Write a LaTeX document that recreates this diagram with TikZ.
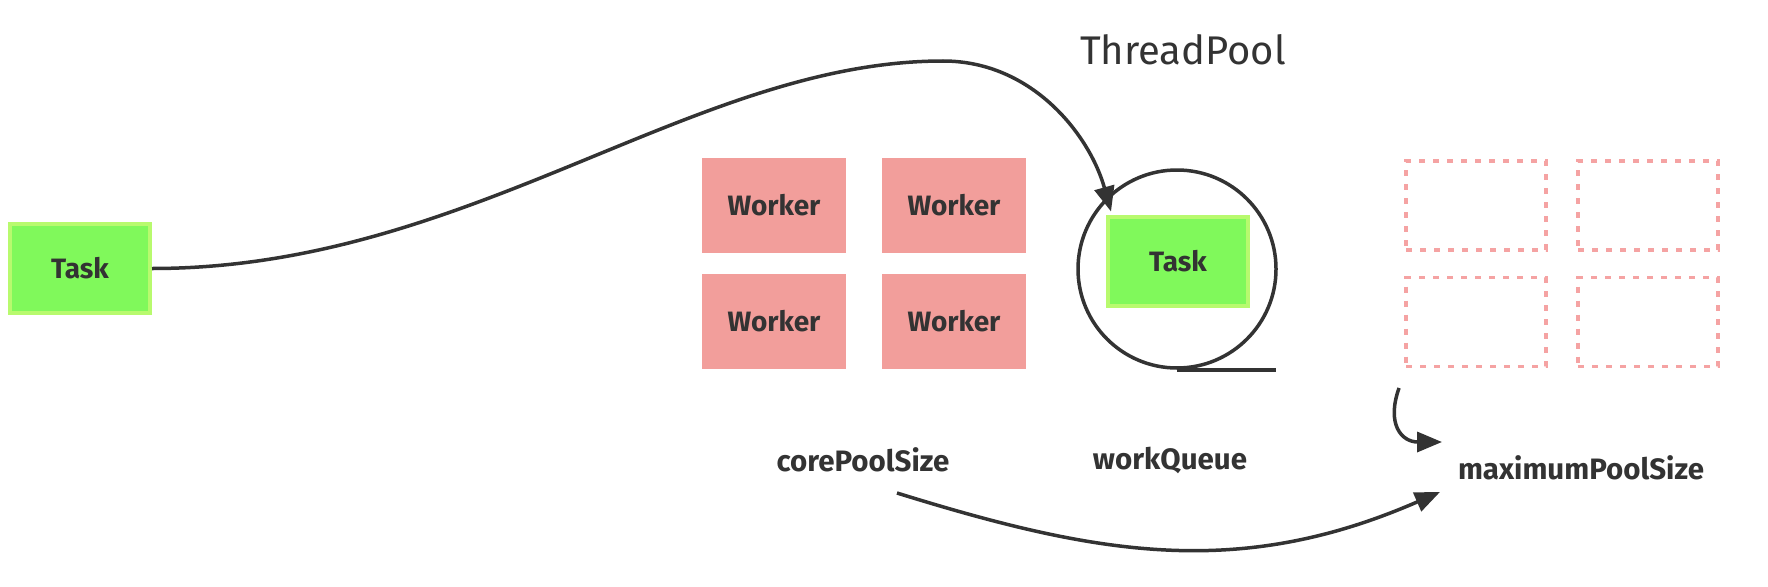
\documentclass[tikz,border=0pt]{standalone}
\usepackage{fontspec}
\setmainfont{Fira Sans}
\usetikzlibrary{arrows.meta}
\definecolor{ink}{HTML}{333333}
\definecolor{tgreen}{HTML}{80F95B}
\definecolor{tborder}{HTML}{B8FA6E}
\definecolor{wpink}{HTML}{F29E9B}
\definecolor{dpink}{HTML}{F5A3A3}
\begin{document}
\begin{tikzpicture}[x=1pt,y=-1pt,
  taskbox/.style={draw=tborder, line width=4pt, fill=tgreen, minimum width=140pt, minimum height=89pt, inner sep=0pt, font=\bfseries\fontsize{28}{30}\selectfont, text=ink},
  workerbox/.style={fill=wpink, draw=none, minimum width=144pt, minimum height=95pt, inner sep=0pt, font=\bfseries\fontsize{28}{30}\selectfont, text=ink},
  slotbox/.style={draw=dpink, line width=3.5pt, dash pattern=on 6pt off 8pt, minimum width=140pt, minimum height=89pt, inner sep=0pt},
  lbl/.style={font=\bfseries\fontsize{29.5}{32}\selectfont, text=ink, inner sep=0pt},
  arr/.style={draw=ink, line width=3.5pt, -{Triangle[length=25pt,width=20pt]}, fill=none},
  queue/.style={circle, draw=ink, line width=3.5pt, minimum size=198pt, inner sep=0pt}
]
\useasboundingbox (0,0) rectangle (1768,586);
% title
\node[font=\fontsize{40}{44}\selectfont, text=ink, inner sep=0pt] (title) at (1183,50) {ThreadPool};
% left task
\node[taskbox] (t1) at (80,268.5) {Task};
% workers
\node[workerbox] (w1) at (774,205.5) {Worker};
\node[workerbox] (w2) at (954,205.5) {Worker};
\node[workerbox] (w3) at (774,321.5) {Worker};
\node[workerbox] (w4) at (954,321.5) {Worker};
% queue
\node[queue] (q) at (1177,269) {};
\draw[draw=ink, line width=3.5pt] (q.south) -- ++(99,0);
\node[taskbox] (t2) at (1178,261) {Task};
% slots
\node[slotbox] (s1) at (1476,205.5) {};
\node[slotbox] (s2) at (1648,205.5) {};
\node[slotbox] (s3) at (1476,322) {};
\node[slotbox] (s4) at (1648,322) {};
% labels
\node[lbl] (cps) at (863,460) {corePoolSize};
\node[lbl] (wq) at (1170,460) {workQueue};
\node[lbl] (mps) at (1581,468) {maximumPoolSize};
% connectors
\coordinate (pk) at (943,61);
\draw[arr] (t1.east) .. controls (470,268.5) and (693,61) .. (pk)
  .. controls (1033,61) and (1090,136) .. ([xshift=5pt,yshift=3pt]t2.north west);
\coordinate (b1) at (897,493);
\coordinate (b2) at (1440,492);
\draw[arr] (b1) .. controls (1097,555) and (1238,580) .. (b2);
\coordinate (a1) at (1399,388);
\coordinate (a2) at (1442,442);
\draw[arr] (a1) .. controls (1386,425) and (1402,442) .. (a2);
\end{tikzpicture}
\end{document}
